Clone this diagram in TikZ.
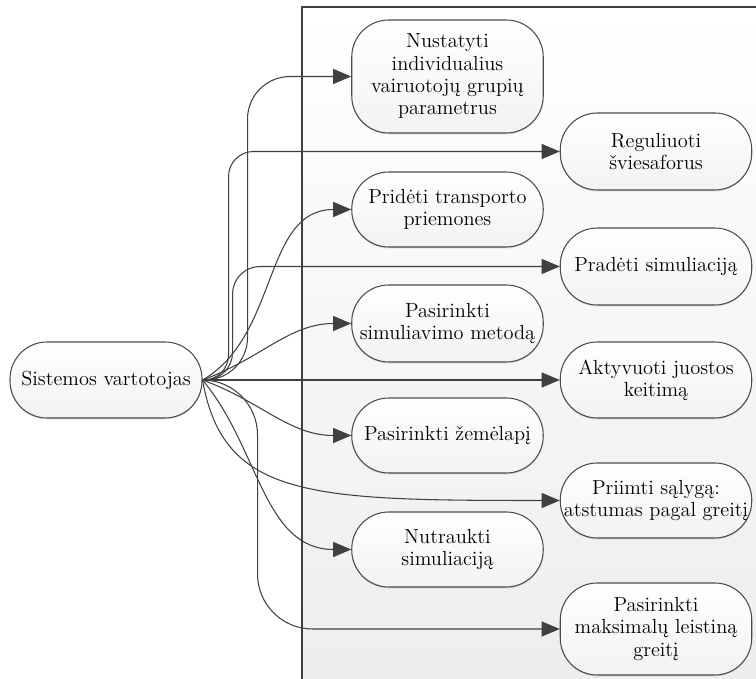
\documentclass[tikz,border=0pt]{standalone}
\usepackage{fontspec}
\usetikzlibrary{arrows.meta, shadows}

\begin{document}
\begin{tikzpicture}[
    >={Triangle[length=0.36cm, width=0.3cm]},
    usecase/.style={draw=black!70, line width=0.6pt, rectangle, rounded corners=0.74cm,
        minimum width=3.83cm, minimum height=1.5cm, inner sep=1pt, align=center,
        top color=white, bottom color=black!5,
        drop shadow={opacity=0.25, shadow xshift=0pt, shadow yshift=-0.8pt},
        font=\fontsize{11.6}{12.7}\selectfont},
    link/.style={->, draw=black!75, line width=0.6pt},
    boundary/.style={draw=black!75, line width=0.8pt, top color=white, bottom color=black!7}
]
    \useasboundingbox (0,0) rectangle (15.12,-13.58);
    \clip (0,0) rectangle (15.12,-13.58);

    % System boundary
    \path[boundary] (6.04,-0.14) rectangle (15.6,-14);

    % Actor
    \node[usecase, minimum width=3.84cm, minimum height=1.52cm] (user) at (2.12,-7.6) {Sistemos vartotojas};

    % Left column
    \node[usecase, minimum height=2.26cm] (params) at (8.95,-1.53) {Nustatyti\\ individualius\\ vairuotojų grupių\\ parametrus};
    \node[usecase] (vehicles) at (8.95,-4.19) {Pridėti transporto\\ priemones};
    \node[usecase, minimum height=1.54cm] (method) at (8.95,-6.47) {Pasirinkti\\ simuliavimo metodą};
    \node[usecase] (map) at (8.95,-8.71) {Pasirinkti žemėlapį};
    \node[usecase] (stop) at (8.95,-10.99) {Nutraukti\\ simuliaciją};

    % Right column
    \node[usecase, minimum height=1.54cm] (lights) at (13.12,-3.03) {Reguliuoti\\ šviesaforus};
    \node[usecase, minimum height=1.54cm] (start) at (13.12,-5.33) {Pradėti simuliaciją};
    \node[usecase, minimum height=1.52cm] (lanes) at (13.12,-7.6) {Aktyvuoti juostos\\ keitimą};
    \node[usecase] (gap) at (13.12,-10.01) {Priimti sąlygą:\\ atstumas pagal greitį};
    \node[usecase, minimum height=1.84cm] (speed) at (13.12,-12.58) {Pasirinkti\\ maksimalų leistiną\\ greitį};

    % Connections
    \draw[link, rounded corners=0.85cm] (user.east) -- ++(0.9,0) |- (params.west);
    \draw[link, rounded corners=0.5cm] (user.east) -- ++(0.52,0) |- (lights.west);
    \draw[link] (user.east) to[out=30, in=180] (vehicles.west);
    \draw[link, rounded corners=0.55cm] (user.east) -- ++(0.6,0) |- (start.west);
    \draw[link] (user.east) to[out=20, in=180] (method.west);
    \draw[link] (user.east) -- (lanes.west);
    \draw[link] (user.east) to[out=-20, in=180] (map.west);
    \draw[link] (user.east) to[out=-80, in=180, out distance=2.4cm, in distance=5cm] (gap.west);
    \draw[link] (user.east) to[out=-50, in=180] (stop.west);
    \draw[link, rounded corners=1.1cm] (user.east) -- ++(1.1,0) |- (speed.west);

\end{tikzpicture}
\end{document}
